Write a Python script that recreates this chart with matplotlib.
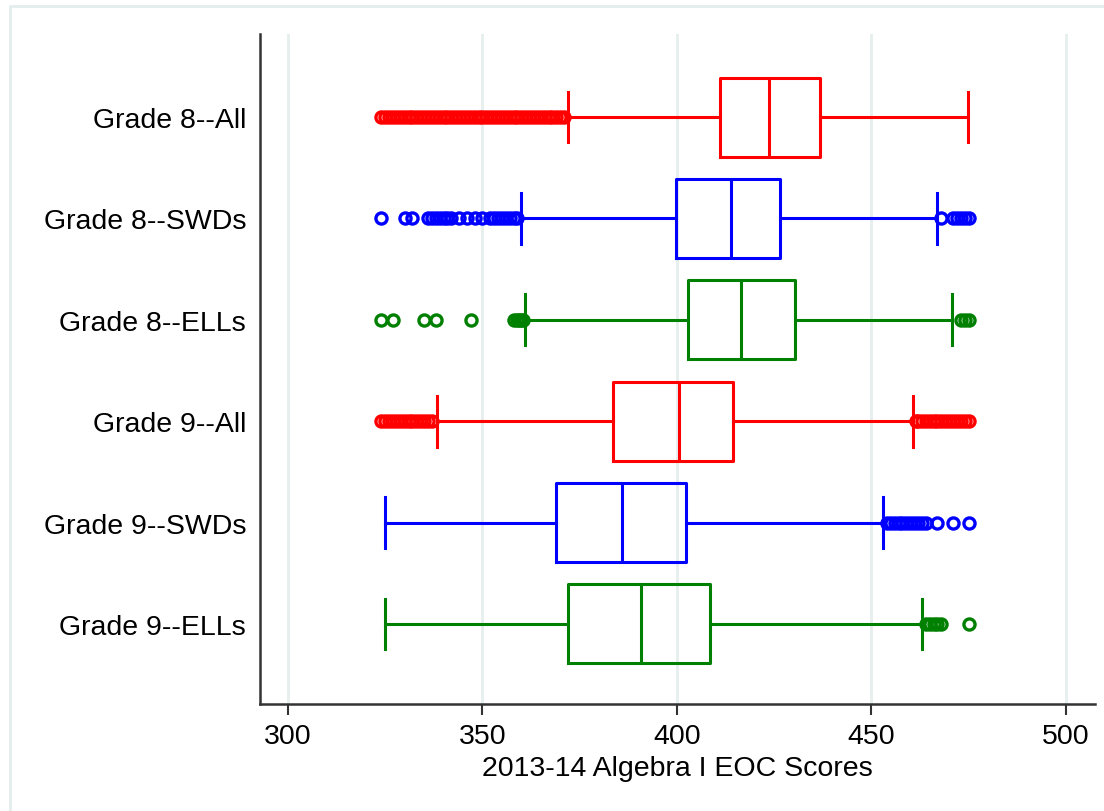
import matplotlib
matplotlib.use("Agg")
import matplotlib.pyplot as plt
from matplotlib.patches import Rectangle

labels = ["Grade 8--All", "Grade 8--SWDs", "Grade 8--ELLs",
          "Grade 9--All", "Grade 9--SWDs", "Grade 9--ELLs"]
colors = ["#ff0000", "#0000ff", "#008000", "#ff0000", "#0000ff", "#008000"]

whislo = [372.0, 360.0, 361.0, 338.3, 325.0, 325.0]
q1     = [411.0, 399.7, 402.8, 383.5, 369.0, 372.0]
med    = [423.7, 414.0, 416.5, 400.5, 386.0, 390.7]
q3     = [436.8, 426.5, 430.3, 414.4, 402.3, 408.5]
whishi = [474.8, 466.8, 470.7, 460.7, 453.0, 463.0]

fliers = [
    [324, 325, 326, 327, 328, 329, 330, 331, 332, 333, 334, 335, 336, 337, 338,
     339, 340, 341, 342, 343, 344, 345, 346, 347, 348, 349, 350, 351, 352, 353,
     354, 355, 356, 357, 358, 359, 360, 361, 362, 363, 364, 365, 366, 367, 368,
     369, 370, 371],
    [324, 330, 332, 336, 337, 338, 339, 340, 341, 342, 344, 346, 348, 350, 352,
     353, 354, 355, 356, 357, 358, 359, 468, 471, 472, 473, 474, 475],
    [324, 327, 335, 338, 347, 358, 359, 359.5, 360, 360.5, 473, 474, 475],
    [324, 325, 326, 327, 328, 329, 330, 331, 332, 333, 334, 335, 336, 337,
     461.5, 462, 463, 464, 465, 466, 467, 468, 469, 470, 471, 472, 473, 474, 475],
    [454, 455, 456, 457, 458, 459, 460, 461, 462, 463, 464, 467, 471, 475],
    [464, 465, 466, 467, 468, 475],
]

xticks = [300, 350, 400, 450, 500]

fig = plt.figure(figsize=(11.04, 8.12), dpi=100)
fig.patches.append(Rectangle((10 / 1104, -0.01), 1.1, 1 - 7 / 812 + 0.01,
                             transform=fig.transFigure, fill=False,
                             edgecolor="#e4eded", linewidth=2))
ax = fig.add_axes([260 / 1104, 1 - 705 / 812, (1095 - 260) / 1104, (705 - 35) / 812])

n = len(labels)
positions = [n - i for i in range(n)]
for i in range(n):
    st = dict(label=labels[i], whislo=whislo[i], q1=q1[i], med=med[i],
              q3=q3[i], whishi=whishi[i], fliers=fliers[i])
    c = colors[i]
    ax.bxp([st], positions=[positions[i]], vert=False, widths=0.78,
           capwidths=0.5, showfliers=True,
           boxprops=dict(color=c, linewidth=2.2),
           medianprops=dict(color=c, linewidth=2.2),
           whiskerprops=dict(color=c, linewidth=2.2),
           capprops=dict(color=c, linewidth=2.2),
           flierprops=dict(marker="o", markerfacecolor="none",
                           markeredgecolor=c, markersize=8,
                           markeredgewidth=2.4, linestyle="none"))

ax.set_xlim(292.8, 507.5)
ax.set_ylim(0.21, 6.82)
ax.set_xticks(xticks)
ax.set_xticklabels([str(t) for t in xticks], fontsize=20.5, family="Liberation Sans")
ax.set_yticks(positions)
ax.set_yticklabels(labels, fontsize=20.5, family="Liberation Sans")
ax.tick_params(axis="y", length=0, pad=10)
ax.tick_params(axis="x", length=8, width=1.5, color="#333333", pad=6, direction="out")
ax.grid(axis="x", color="#e6eeee", linewidth=2)
ax.set_axisbelow(True)
for s in ["top", "right"]:
    ax.spines[s].set_visible(False)
for s in ["left", "bottom"]:
    ax.spines[s].set_color("#333333")
    ax.spines[s].set_linewidth(1.8)
ax.set_xlabel("2013-14 Algebra I EOC Scores", fontsize=20.5, family="Liberation Sans",
              labelpad=4)

fig.savefig("out.png", dpi=100)
